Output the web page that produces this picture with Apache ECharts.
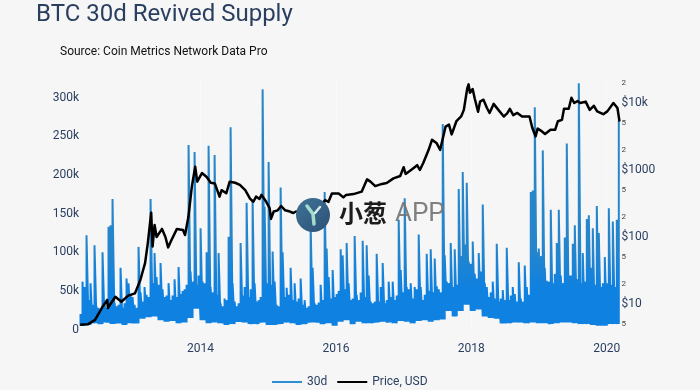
<!DOCTYPE html>
<html><head><meta charset="utf-8">
<script src="https://cdn.jsdelivr.net/npm/echarts@6/dist/echarts.min.js"></script>
<style>html,body{margin:0;padding:0;background:#f6f6f7}#c{width:700px;height:390px}</style></head>
<body><div id="c"></div>
<script>
const seriesNames = ['30d', 'Price, USD'];
const yearTicks = [2014, 2016, 2018, 2020];
const supplyTicks = [0, 50000, 100000, 150000, 200000, 250000, 300000];
const priceTicks = [5, 10, 20, 50, 100, 200, 500, 1000, 2000, 5000, 10000, 20000];
const priceTickLabels = ['5', '$10', '2', '5', '$100', '2', '5', '$1000', '2', '5', '$10k', '2'];
const firstYear = 2012.2255;
const binYears = 0.02957;
// revived supply: top of each 11-day bin, thousands of BTC
const revivedTop = [
20,62,55,122,38,60,32,109,30,28,
26,100,34,28,133,135,169,35,30,32,
80,28,34,66,60,45,42,32,28,107,
48,36,55,45,42,169,60,99,68,58,
86,52,42,44,60,38,44,65,42,81,
46,50,52,58,239,75,62,230,58,70,
131,62,60,100,238,55,48,226,45,99,
34,30,40,38,120,262,60,36,30,34,
112,44,55,164,42,52,168,60,36,38,
42,311,159,60,217,58,101,62,32,30,
184,100,42,54,45,80,38,60,36,40,
66,32,38,28,30,137,80,34,32,35,
58,38,178,105,68,40,77,42,46,50,
104,96,52,112,60,38,40,121,45,38,
48,115,42,109,70,36,34,36,98,36,
55,86,34,38,62,42,62,38,44,142,
77,48,170,55,52,60,40,55,52,123,
55,38,45,98,50,104,48,92,56,52,
48,266,96,62,60,112,55,104,58,182,
95,204,110,190,88,85,114,72,66,99,
75,162,60,55,42,48,62,40,111,36,
40,51,38,106,38,44,55,46,36,87,
40,36,83,55,45,178,180,288,100,105,
95,232,80,63,62,155,60,72,112,155,
70,60,119,241,70,70,111,135,65,319,
60,99,62,143,148,80,131,58,160,125,
55,60,94,60,157,58,140,55,142,271];
// revived supply: low edge, one value per three bins, thousands of BTC
const revivedFloor = [
5,6,8,7,9,7,8,6,8,8,14,16,17,12,10,11,8,9,15,27,
12,8,9,8,6,7,10,9,7,7,9,6,6,7,9,8,6,7,9,9,
7,8,5,10,12,7,10,8,8,9,10,9,8,11,10,8,11,12,10,12,
13,24,17,24,32,24,26,17,15,14,8,8,9,9,8,9,8,8,7,8,
9,9,8,7,7,6,5,5,7,7];
const priceYears = [
2012.22,2012.34,2012.44,2012.54,2012.62,2012.63,2012.74,2012.83,2012.93,2013.03,
2013.11,2013.18,2013.22,2013.27,2013.29,2013.32,2013.35,2013.43,2013.48,2013.52,
2013.57,2013.65,2013.74,2013.77,2013.82,2013.87,2013.92,2013.95,2014.02,2014.09,
2014.15,2014.21,2014.28,2014.31,2014.38,2014.43,2014.51,2014.58,2014.66,2014.73,
2014.78,2014.82,2014.87,2014.90,2014.97,2015.02,2015.04,2015.08,2015.14,2015.19,
2015.25,2015.32,2015.37,2015.41,2015.55,2015.65,2015.77,2015.84,2015.89,2015.94,
2016.04,2016.11,2016.15,2016.26,2016.38,2016.46,2016.51,2016.58,2016.68,2016.75,
2016.85,2016.95,2017.00,2017.03,2017.12,2017.20,2017.24,2017.29,2017.37,2017.42,
2017.49,2017.54,2017.57,2017.62,2017.67,2017.71,2017.78,2017.85,2017.89,2017.94,
2017.96,2017.98,2018.02,2018.05,2018.10,2018.13,2018.18,2018.23,2018.27,2018.33,
2018.40,2018.48,2018.53,2018.57,2018.62,2018.68,2018.75,2018.86,2018.90,2018.95,
2018.98,2019.04,2019.09,2019.17,2019.24,2019.28,2019.34,2019.37,2019.44,2019.48,
2019.52,2019.57,2019.61,2019.69,2019.75,2019.81,2019.86,2019.95,2020.01,2020.10,
2020.16,2020.19];
const priceValues = [
4.9,5,5.8,8.7,11.5,8.7,12.8,10.8,13.3,14.4,
22.8,41,81,230,72,151,100,132,100,70,
90,132,127,107,200,560,1120,670,900,785,
645,630,400,500,450,670,645,600,500,375,
336,400,370,425,335,270,186,240,250,290,
250,240,228,240,240,250,290,355,335,447,
447,390,425,437,475,725,670,575,620,640,
750,815,1100,875,1020,1180,1000,1270,2000,2830,
2500,2000,2700,4450,4750,3400,5350,6300,7900,16500,
19000,14200,16200,11800,7400,10500,11200,8500,7100,9700,
7900,6300,7000,8200,6600,7100,6300,6300,4300,3170,
4150,3800,3450,4000,4000,5350,5600,8200,8200,12000,
10000,10700,10000,10500,7900,9100,7500,6800,7500,10000,
8400,5300];

const revivedPoints = [];
revivedTop.forEach((top, i) => {
  const yr = firstYear + i * binYears;
  const low = revivedFloor[Math.floor(i / 3)];
  revivedPoints.push([yr, low * 1000], [yr, top * 1000]);
});
const pricePoints = priceYears.map((y, i) => [y, priceValues[i]]);
const ink = '#2a3f5f';

const chart = echarts.init(document.getElementById('c'), null, {renderer: 'canvas'});
chart.setOption({
  animation: false,
  backgroundColor: '#f6f6f7',
  textStyle: {fontFamily: 'Roboto'},
  title: [
    {text: 'BTC 30d Revived Supply', left: 31, top: -2, textStyle: {fontFamily: 'Roboto', fontSize: 24, fontWeight: 'normal', color: ink}},
    {text: 'Source: Coin Metrics Network Data Pro', left: 55, top: 41, textStyle: {fontFamily: 'Roboto', fontSize: 12, fontWeight: 'normal', color: '#111'}}
  ],
  grid: {left: 80, right: 80.5, top: 79.5, height: 250},
  legend: {
    left: 267, top: 371, itemWidth: 30, itemHeight: 14, itemGap: 10,
    textStyle: {color: ink, fontSize: 12, fontFamily: 'Roboto'},
    data: seriesNames.map(n => ({name: n, icon: 'path://M0 0H30V2H0Z'}))
  },
  xAxis: {
    type: 'value', min: 2012.218, max: 2020.19,
    axisLine: {show: false},
    axisTick: {show: false, customValues: yearTicks},
    splitLine: {show: true, lineStyle: {color: '#f9f9fa', width: 1}},
    axisLabel: {customValues: yearTicks, color: ink, fontSize: 12, margin: 13, formatter: v => String(v)}
  },
  yAxis: [{
    type: 'value', min: 0, max: 323800,
    axisLine: {show: false}, axisTick: {show: false},
    splitLine: {show: false},
    axisLabel: {customValues: supplyTicks, color: ink, fontSize: 12, margin: 1,
      formatter: v => v === 0 ? '0' : (v / 1000) + 'k'}
  }, {
    type: 'log', min: 4.16, max: 22440, position: 'right',
    axisLine: {show: false}, axisTick: {show: false},
    splitLine: {show: false},
    axisLabel: {customValues: priceTicks, margin: 2,
      formatter: v => {
        const idx = priceTicks.findIndex(t => Math.abs(t - v) / t < 0.01);
        const s = priceTickLabels[idx];
        return s && s[0] === '$' ? '{big|' + s + '}' : '{small|' + s + '}';
      },
      rich: {big: {fontSize: 12, color: ink, fontFamily: 'Roboto'}, small: {fontSize: 8, color: '#444', fontFamily: 'Roboto'}}
    }
  }],
  series: [
    {name: seriesNames[0], type: 'line', yAxisIndex: 0, data: revivedPoints, showSymbol: false, symbol: 'none',
      lineStyle: {width: 2, join: 'bevel', color: new echarts.graphic.LinearGradient(0, 0, 0, 1, [
        {offset: 0, color: '#2c86c6'}, {offset: 0.68, color: '#2585cc'}, {offset: 0.84, color: '#0f81e0'}, {offset: 1, color: '#0f81e0'}])},
      itemStyle: {color: '#2b8fd4'}, z: 2},
    {name: seriesNames[1], type: 'line', yAxisIndex: 1, data: pricePoints, showSymbol: false, symbol: 'none',
      lineStyle: {color: '#000', width: 2.5, join: 'round'}, itemStyle: {color: '#000'}, z: 3}
  ],
  graphic: [
    {type: 'circle', z: 100, shape: {cx: 313, cy: 215, r: 17},
      style: {fill: new echarts.graphic.LinearGradient(0, 0, 1, 1, [{offset: 0, color: '#3f7597'}, {offset: 1, color: '#2d4f76'}])}},
    {type: 'polyline', z: 101, shape: {points: [[307, 206], [313, 214], [314, 224]]},
      style: {stroke: '#a5dccb', lineWidth: 3.5, fill: null, lineCap: 'round'}},
    {type: 'polyline', z: 101, shape: {points: [[320, 207], [315, 213]]},
      style: {stroke: '#d7ecea', lineWidth: 2.5, fill: null, lineCap: 'round'}},
    {type: 'text', z: 101, left: 339, top: 201,
      style: {text: '小葱', fill: '#1c1c1c', fontSize: 24, fontWeight: 'bold', fontFamily: 'Noto Sans CJK SC'}},
    {type: 'text', z: 101, left: 395, top: 201,
      style: {text: 'APP', fill: 'rgba(115,115,115,0.9)', fontSize: 26, fontFamily: 'Roboto'}}
  ]
});
</script></body></html>
